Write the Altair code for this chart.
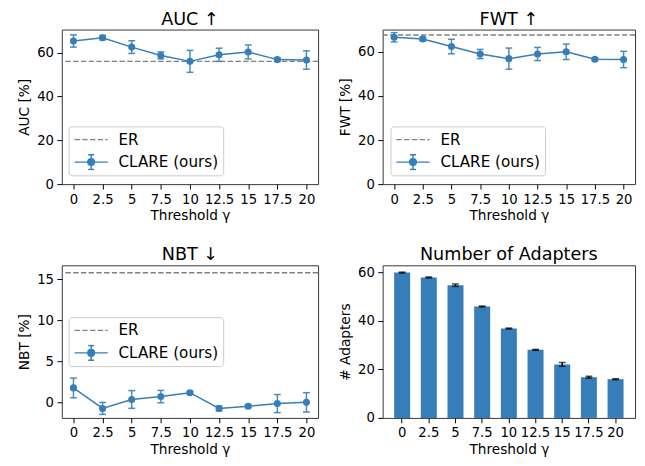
import altair as alt
import pandas as pd

gammas = [0, 2.5, 5, 7.5, 10, 12.5, 15, 17.5, 20]
gamma_labels = ["0", "2.5", "5", "7.5", "10", "12.5", "15", "17.5", "20"]

auc_mean = [65.3, 66.8, 62.5, 58.7, 56.0, 59.0, 60.3, 56.8, 56.6]
auc_err = [2.8, 1.0, 2.9, 1.6, 5.0, 3.0, 3.2, 0.8, 4.2]
auc_er = 56.0

fwt_mean = [66.7, 65.9, 62.5, 59.1, 57.0, 59.1, 60.1, 56.7, 56.6]
fwt_err = [2.1, 0.8, 3.3, 2.1, 4.8, 3.0, 3.5, 0.6, 3.7]
fwt_er = 67.7

nbt_mean = [1.76, -0.74, 0.35, 0.70, 1.18, -0.74, -0.47, -0.15, 0.0]
nbt_err = [1.2, 0.73, 1.08, 0.75, 0.2, 0.3, 0.2, 1.1, 1.18]
nbt_er = 15.8

adapters_mean = [60.0, 58.0, 54.8, 46.0, 36.9, 28.1, 22.1, 16.8, 16.0]
adapters_err = [0.2, 0.2, 0.5, 0.2, 0.2, 0.2, 0.8, 0.4, 0.2]

baseline_name = "ER"
method_name = "CLARE (ours)"

BLUE = "#377eb8"
GRAY = "#808080"
FONT = "DejaVu Sans"
DASH = [5.5, 2.4]

PATH_CLARE = ("M-1,0H1M0,-0.44V0.44M-0.18,-0.44H0.18M-0.18,0.44H0.18"
              "M0.2,0A0.2,0.2,0,1,1,-0.2,0A0.2,0.2,0,1,1,0.2,0Z")

LEG_COMMON = dict(
    orient="none", labelFontSize=15.5, labelFont=FONT, labelColor="black",
    symbolSize=1156, symbolStrokeWidth=1.5, symbolOpacity=1,
    padding=5, clipHeight=17, labelOffset=10,
)


def line_panel(mean, err, er, title, ytitle, ydomain, yticks, w, h, lx, ly):
    df = pd.DataFrame({
        "gamma": gammas,
        "mean": mean,
        "lo": [m - e for m, e in zip(mean, err)],
        "hi": [m + e for m, e in zip(mean, err)],
        "series": [method_name] * len(gammas),
    })
    xenc = alt.X("gamma:Q",
                 scale=alt.Scale(domain=[-1, 21], nice=False, zero=False),
                 axis=alt.Axis(values=gammas, labelExpr="datum.value + ''",
                               title="Threshold γ"))

    def yenc(field):
        return alt.Y(f"{field}:Q",
                     scale=alt.Scale(domain=ydomain, nice=False, zero=False),
                     axis=alt.Axis(values=yticks, title=ytitle))

    base = alt.Chart(df)
    leg_er = alt.Legend(title=None, legendX=lx, legendY=ly, symbolType="stroke",
                        symbolDash=DASH, zindex=2, **LEG_COMMON)
    er_rule = alt.Chart(pd.DataFrame({"er": [er], "series": [baseline_name]})).mark_rule(
        strokeDash=DASH, strokeWidth=1.5
    ).encode(
        y=yenc("er"),
        color=alt.Color("series:N", scale=alt.Scale(domain=[baseline_name], range=[GRAY]),
                        legend=leg_er),
    )
    bars = base.mark_rule(color=BLUE, strokeWidth=1.5, opacity=0.9).encode(
        x=xenc, y=yenc("lo"), y2="hi")
    cap_lo = base.mark_tick(color=BLUE, orient="horizontal", size=7, thickness=1.5,
                            opacity=0.9).encode(x=xenc, y=yenc("lo"))
    cap_hi = base.mark_tick(color=BLUE, orient="horizontal", size=7, thickness=1.5,
                            opacity=0.9).encode(x=xenc, y=yenc("hi"))
    line = base.mark_line(color=BLUE, strokeWidth=1.5).encode(x=xenc, y=yenc("mean"))
    leg_cl = alt.Legend(title="\u00a0", titleFontSize=15, titlePadding=8,
                        legendX=lx, legendY=ly, symbolType=PATH_CLARE,
                        symbolStrokeColor=BLUE, strokeColor="#cccccc",
                        fillColor="rgba(255,255,255,0.8)", cornerRadius=3,
                        zindex=1, **LEG_COMMON)
    pts = base.mark_point(filled=True, size=52, opacity=1).encode(
        x=xenc, y=yenc("mean"),
        fill=alt.Fill("series:N", scale=alt.Scale(domain=[method_name], range=[BLUE]),
                      legend=leg_cl),
    )
    return alt.layer(er_rule, bars, cap_lo, cap_hi, line, pts).properties(
        width=w, height=h, title=title)


def bar_panel(w, h):
    df = pd.DataFrame({
        "label": gamma_labels,
        "mean": adapters_mean,
        "lo": [m - e for m, e in zip(adapters_mean, adapters_err)],
        "hi": [m + e for m, e in zip(adapters_mean, adapters_err)],
    })
    xenc = alt.X("label:N", sort=gamma_labels,
                 scale=alt.Scale(paddingInner=0.4, paddingOuter=0.43),
                 axis=alt.Axis(labelAngle=0, title="Threshold γ"))

    def yenc(field):
        return alt.Y(f"{field}:Q", scale=alt.Scale(domain=[0, 63], nice=False),
                     axis=alt.Axis(values=[0, 20, 40, 60], title="# Adapters"))

    base = alt.Chart(df)
    b = base.mark_bar(color=BLUE).encode(x=xenc, y=yenc("mean"))
    r = base.mark_rule(color="black", strokeWidth=1.5).encode(x=xenc, y=yenc("lo"), y2="hi")
    c1 = base.mark_tick(color="black", orient="horizontal", size=7, thickness=1.5).encode(
        x=xenc, y=yenc("lo"))
    c2 = base.mark_tick(color="black", orient="horizontal", size=7, thickness=1.5).encode(
        x=xenc, y=yenc("hi"))
    return alt.layer(b, r, c1, c2).properties(width=w, height=h, title="Number of Adapters")


auc = line_panel(auc_mean, auc_err, auc_er, "AUC ↑", "AUC [%]", [0, 70.5],
                 [0, 20, 40, 60], 262, 158, 7, 99)
fwt = line_panel(fwt_mean, fwt_err, fwt_er, "FWT ↑", "FWT [%]", [0, 70.2],
                 [0, 20, 40, 60], 258, 158, 8, 99)
nbt = line_panel(nbt_mean, nbt_err, nbt_er, "NBT ↓", "NBT [%]", [-1.9, 16.7],
                 [0, 5, 10, 15], 262, 156, 7, 53)
nad = bar_panel(258, 156)

top_row = alt.hconcat(auc, fwt, spacing=18).resolve_scale(
    color="independent", fill="independent")
bottom_row = alt.hconcat(nbt, nad, spacing=18).resolve_scale(
    color="independent", fill="independent")

chart = alt.vconcat(top_row, bottom_row, spacing=23).properties(
    padding={"left": 9, "top": -3, "right": 0, "bottom": 0}
).configure(
    font=FONT,
).configure_view(
    stroke="#333333", strokeWidth=1
).configure_axis(
    grid=False, domain=False, tickColor="black", tickSize=5, tickWidth=1,
    labelFontSize=13.5, labelFont=FONT, labelColor="black", labelPadding=3.5,
    labelOverlap=False, labelFlush=False,
    titleFontSize=14, titleFont=FONT, titleFontWeight="normal", titleColor="black",
).configure_axisX(
    titlePadding=3
).configure_axisY(
    titlePadding=5
).configure_title(
    fontSize=18, font=FONT, fontWeight="normal", color="black", offset=1
).resolve_scale(color="independent", fill="independent")

chart.save("out.html", embed_options={"renderer": "svg", "actions": False})
